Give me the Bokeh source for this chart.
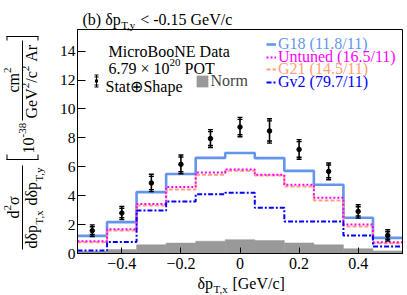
import math
from bokeh.plotting import figure
from bokeh.models import (Label, BoxAnnotation, Legend, LegendItem, FixedTicker, Range1d)
from bokeh.embed import file_html
from bokeh.resources import INLINE

# ---------------- data ----------------
bin_edges = [-0.55, -0.45, -0.35, -0.25, -0.15, -0.05, 0.05, 0.15, 0.25, 0.35, 0.45, 0.55]
bin_centers = [-0.5, -0.4, -0.3, -0.2, -0.1, 0.0, 0.1, 0.2, 0.3, 0.4, 0.5]
data_xsec = [1.58, 2.80, 4.88, 6.17, 7.95, 8.75, 8.48, 7.20, 5.68, 2.91, 1.25]
data_err_total = [0.40, 0.45, 0.60, 0.65, 0.62, 0.67, 0.84, 0.68, 0.58, 0.46, 0.39]
data_err_stat = [0.27, 0.32, 0.46, 0.51, 0.48, 0.53, 0.70, 0.54, 0.44, 0.32, 0.26]
g18 = [1.22, 2.17, 4.25, 5.50, 6.62, 6.95, 6.60, 5.72, 4.76, 2.47, 1.08]
untuned = [0.85, 1.68, 3.42, 4.60, 5.60, 5.82, 5.45, 4.76, 3.86, 2.00, 0.78]
g21 = [0.78, 1.60, 3.32, 4.42, 5.45, 5.72, 5.40, 4.64, 3.67, 1.87, 0.71]
gv2 = [0.20, 0.80, 2.97, 3.60, 4.10, 4.20, 3.17, 2.22, 2.22, 1.25, 0.49]
norm_unc = [0.15, 0.28, 0.60, 0.72, 0.85, 0.96, 0.90, 0.73, 0.60, 0.33, 0.18]
model_names = ["G18", "Untuned", "G21", "Gv2"]
model_chi2 = ["11.8/11", "16.5/11", "14.5/11", "79.7/11"]
xtick_values = [-0.4, -0.2, 0.0, 0.2, 0.4]
xtick_labels = ["\u22120.4", "\u22120.2", "0", "0.2", "0.4"]
ytick_values = [0, 2, 4, 6, 8, 10, 12, 14]
y_top = 15.5

# ---------------- styles / layout ----------------
FONT = "Liberation Serif"
C_G18 = "#6495ED"
C_UNT = "#FF00FF"
C_G21 = "#FFA07A"
C_GV2 = "#0000FF"
C_NORM = "#999999"

W, H = 407, 295
FL, FR, FT, FB = 77, 402, 29, 253     # plot-box edges in page px
x0, x1 = bin_edges[0], bin_edges[-1]
kx = (FR - FL) / (x1 - x0)
ky = (FB - FT) / y_top
# the frame fills the canvas; the plot box sits inside it and the axes are pinned to it
p = figure(width=W, height=H,
           x_range=Range1d(x0 - FL / kx, x1 + (W - FR) / kx),
           y_range=Range1d(-(H - FB) / ky, y_top + FT / ky),
           output_backend="svg", toolbar_location=None,
           min_border_left=0, min_border_right=0, min_border_top=0, min_border_bottom=0)
p.grid.visible = False
p.outline_line_color = None
p.background_fill_color = "white"
p.border_fill_color = "white"

xa, ya = p.xaxis[0], p.yaxis[0]
for ax in (xa, ya):
    ax.major_tick_out = 0
    ax.minor_tick_line_color = None
    ax.axis_line_color = "black"
    ax.major_tick_line_color = "black"
    ax.major_label_text_font = FONT
    ax.major_label_text_color = "black"
xa.fixed_location = 0
xa.bounds = (x0, x1)
xa.ticker = FixedTicker(ticks=xtick_values)
xa.major_label_overrides = dict(zip(xtick_values, xtick_labels))
xa.major_tick_in = 6
xa.major_label_standoff = 4
xa.major_label_text_font_size = "16px"
ya.fixed_location = x0
ya.bounds = (0, y_top)
ya.ticker = FixedTicker(ticks=ytick_values)
ya.major_tick_in = 8
ya.major_label_standoff = 2
ya.major_label_text_font_size = "15.5px"

# plot box
p.add_layout(BoxAnnotation(left=x0, right=x1, bottom=0, top=y_top, fill_alpha=0,
                           line_color="black", line_alpha=1, line_width=1))


def step_xy(vals):
    xs, ys = [], []
    for i, v in enumerate(vals):
        xs += [bin_edges[i], bin_edges[i + 1]]
        ys += [v, v]
    return xs, ys

# normalisation uncertainty band
r_norm = p.quad(left=bin_edges[:-1], right=bin_edges[1:], bottom=0, top=norm_unc,
                fill_color=C_NORM, line_color=C_NORM, line_width=0.5)

xs, ys = step_xy(g18)
r_g18 = p.line(xs, ys, line_color=C_G18, line_width=2.6)
xs, ys = step_xy(g21)
r_g21 = p.line(xs, ys, line_color=C_G21, line_width=2, line_dash="4 2")
xs, ys = step_xy(untuned)
r_unt = p.line(xs, ys, line_color=C_UNT, line_width=2, line_dash="2 2")
xs, ys = step_xy(gv2)
r_gv2 = p.line(xs, ys, line_color=C_GV2, line_width=2, line_dash="5 2 2 2")

# data points with error bars
lo = [v - e for v, e in zip(data_xsec, data_err_total)]
hi = [v + e for v, e in zip(data_xsec, data_err_total)]
slo = [v - e for v, e in zip(data_xsec, data_err_stat)]
shi = [v + e for v, e in zip(data_xsec, data_err_stat)]
p.segment(x0=bin_centers, y0=lo, x1=bin_centers, y1=hi, line_color="black", line_width=1.6)
for yy in (lo, hi, slo, shi):
    p.scatter(bin_centers, yy, marker="dash", size=5, line_color="black", line_width=1.4)
p.scatter(bin_centers, data_xsec, size=4.5, fill_color="black", line_color="black")

# ---------------- text helpers (positions in page px from the top-left) ----------------
WID = {' ': .25, '(': .333, ')': .333, '[': .333, ']': .333, ',': .25, '.': .25, '/': .278,
       '-': .333, '\u2212': .564, '<': .564, '\u00d7': .564, '\u2295': .77, '\u00b2': .3,
       'A': .722, 'B': .667, 'D': .722, 'E': .611, 'G': .722, 'M': .889, 'N': .722, 'O': .722,
       'P': .556, 'S': .556, 'T': .611, 'V': .722, 'a': .444, 'b': .5, 'c': .444, 'd': .5,
       'e': .444, 'h': .5, 'i': .278, 'm': .778, 'n': .5, 'o': .5, 'p': .5, 'r': .333, 's': .389,
       't': .278, 'u': .5, 'v': .5, 'x': .5, 'y': .5, '\u03b4': .5, '\u03c3': .55}


def tw(text, size):
    return sum(WID.get(ch, .5) for ch in text) * size


def lab(text, X, Y, size, color="black", angle=0.0, align="left", baseline="alphabetic"):
    p.add_layout(Label(x=X, y=H - Y, x_units="screen", y_units="screen", text=text,
                       text_font=FONT, text_font_size=f"{size}px", text_color=color,
                       angle=angle, text_align=align, text_baseline=baseline))


def hrun(pieces, X, Y):
    for text, size, dy in pieces:
        lead = len(text) - len(text.lstrip(" "))
        X += lead * WID[' '] * size          # svg drops leading blanks: advance instead
        text = text.lstrip(" ")
        lab(text, X, Y + dy, size)
        X += tw(text, size)


def vrun(pieces, X, Y):
    for text, size, dx in pieces:
        lead = len(text) - len(text.lstrip(" "))
        Y -= lead * WID[' '] * size
        text = text.lstrip(" ")
        lab(text, X + dx, Y, size, angle=math.pi / 2, baseline="middle")
        Y -= tw(text, size)


def box(X0, X1, Y0, Y1, color="black"):
    p.add_layout(BoxAnnotation(left=X0, right=X1, bottom=H - Y1, top=H - Y0,
                               left_units="screen", right_units="screen",
                               top_units="screen", bottom_units="screen",
                               fill_color=color, fill_alpha=1, line_color=None))

# title
hrun([("(b) \u03b4p", 16, 0), ("T,y", 11, 5), (" < -0.15 GeV/c", 16, 0)], 82, 19)
# x-axis title
hrun([("\u03b4p", 16, 0), ("T,x", 11, 5.5), (" [GeV/c]", 16, 0)], 197, 283)

# y-axis title (rotated, reads bottom to top)
vrun([("d", 16, 0), ("2", 11, -6), ("\u03c3", 16, 0)], 13, 218)
box(21.5, 22.5, 165, 249)
vrun([("d\u03b4p", 16, 0), ("T,x", 11, 7), (" d\u03b4p", 16, 0), ("T,y", 11, 7)], 31, 248)
box(6, 38, 158.5, 159.5)
box(6, 7, 154, 159.5)
box(37, 38, 154, 159.5)
vrun([("10", 16, 0), ("-38", 11, -6)], 28, 153)
box(21.5, 22.5, 40, 120)
vrun([("GeV", 16, 0), ("2", 11, -6), ("/c", 16, 0), ("2", 11, -6), (" Ar", 16, 0)], 31, 118)
vrun([("cm", 16, 0), ("2", 11, -6)], 13, 92)
box(6, 38, 35.5, 36.5)
box(6, 7, 35.5, 40)
box(37, 38, 35.5, 40)

# ---------------- legends inside the plot box ----------------
lab("MicroBooNE Data", 108, 51, 16)
hrun([("6.79 \u00d7 10", 16, 0), ("20", 11, -6), (" POT", 16, 0)], 108, 67.5)
lab("Stat\u2295Shape", 105, 85.5, 16)
box(95.5, 96.5, 74.5, 86.5)
for yc in (74.5, 76.5, 84.5, 86.5):
    box(94, 98, yc - 0.5, yc + 0.5)
box(94.5, 97.5, 79, 82)

leg_norm = Legend(items=[LegendItem(label="Norm", renderers=[r_norm])],
                  location=(194.5, H - 81 - 9), glyph_width=14, glyph_height=14,
                  label_standoff=2, padding=0, margin=0, spacing=0,
                  label_text_font=FONT, label_text_font_size="16px",
                  background_fill_alpha=0, border_line_color=None)
p.add_layout(leg_norm)

model_rend = [r_g18, r_unt, r_g21, r_gv2]
model_col = [C_G18, C_UNT, C_G21, C_GV2]
row_y = [44.5, 57, 69.5, 82]
for name, chi, r, c, yc in zip(model_names, model_chi2, model_rend, model_col, row_y):
    lg = Legend(items=[LegendItem(label=f"{name} ({chi})", renderers=[r])],
                location=(266, H - yc - 8.5), glyph_width=10, glyph_height=16,
                label_height=16, label_standoff=2, padding=0, margin=0, spacing=0,
                label_text_font=FONT, label_text_font_size="16px", label_text_color=c,
                background_fill_alpha=0, border_line_color=None)
    p.add_layout(lg)

open("out.html", "w").write(file_html(p, INLINE))
